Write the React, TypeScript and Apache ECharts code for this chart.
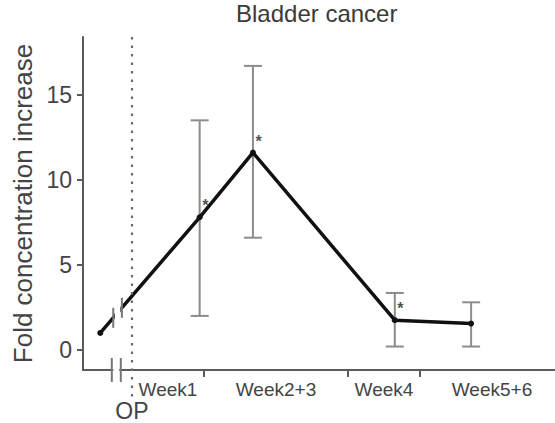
import React, { useEffect, useRef } from 'react';
import * as echarts from 'echarts';

const chartTitle = 'Bladder cancer';
const yAxisName = 'Fold concentration increase';
const opLabel = 'OP';
const weekLabels = ['Week1', 'Week2+3', 'Week4', 'Week5+6'];
const weekLabelPos = [0.5, 2, 3.5, 5];
const weekTickPos = [1, 3, 4];
const yTickValues = [0, 5, 10, 15];

// x position of each measurement, in weeks after the operation (OP = 0)
const pointWeeks = [-0.44, 0.94, 1.68, 3.65, 4.71];
const meanValues = [1.0, 7.8, 11.6, 1.75, 1.55];
const errLow = [null, 2.0, 6.6, 0.2, 0.2];
const errHigh = [null, 13.5, 16.7, 3.35, 2.8];
const significant = [false, true, true, true, false];

const opWeek = 0;
const lineBreakWeeks = [-0.26, -0.14];
const axisBreakWeeks = [-0.28, -0.155];

const X_MIN = -0.68;
const X_MAX = 5.875;
const Y_MIN = -1.18;
const Y_MAX = 18.4;

const FONT = 'Liberation Sans, Arial, Helvetica, sans-serif';
const AXIS_COLOR = '#5a5a5a';
const TEXT_COLOR = '#444';

function lineValueAt(w: number) {
  const w0 = pointWeeks[0], w1 = pointWeeks[1];
  const v0 = meanValues[0], v1 = meanValues[1];
  return v0 + ((w - w0) / (w1 - w0)) * (v1 - v0);
}

export default function App() {
  const ref = useRef<HTMLDivElement>(null);
  useEffect(() => {
    document.body.style.margin = '0';
    if (!ref.current) return;
    const chart = echarts.init(ref.current, null, { renderer: 'svg' });

    const linePoints = pointWeeks.map((w, i) => [w, meanValues[i]]);
    const errData = pointWeeks
      .map((w, i) => (errLow[i] == null ? null : [w, errLow[i], errHigh[i]]))
      .filter((d) => d !== null);
    const starData = pointWeeks
      .map((w, i) => (significant[i] ? [w, meanValues[i]] : null))
      .filter((d) => d !== null);

    const option: any = {
      animation: false,
      backgroundColor: '#fff',
      title: {
        text: chartTitle,
        left: 236,
        top: 1,
        padding: 0,
        textStyle: { fontFamily: FONT, fontSize: 24, fontWeight: 'normal', color: '#3a3a3a' },
      },
      grid: { left: 83, right: 0, top: 37, bottom: 53, containLabel: false },
      xAxis: {
        type: 'value',
        min: X_MIN,
        max: X_MAX,
        splitLine: { show: false },
        axisLine: { show: true, onZero: false, lineStyle: { color: AXIS_COLOR, width: 2 } },
        axisTick: {
          show: true,
          customValues: weekTickPos,
          length: 7,
          lineStyle: { color: AXIS_COLOR, width: 2 },
        },
        axisLabel: {
          show: true,
          customValues: weekLabelPos,
          margin: 10,
          fontFamily: FONT,
          fontSize: 19,
          color: TEXT_COLOR,
          formatter: (v: number) => {
            const idx = weekLabelPos.findIndex((p) => Math.abs(p - v) < 1e-6);
            return idx >= 0 ? weekLabels[idx] : '';
          },
        },
      },
      yAxis: {
        type: 'value',
        min: Y_MIN,
        max: Y_MAX,
        name: yAxisName,
        nameLocation: 'middle',
        nameGap: 41,
        nameTextStyle: { fontFamily: FONT, fontSize: 26, color: TEXT_COLOR },
        splitLine: { show: false },
        axisLine: { show: true, onZero: false, lineStyle: { color: AXIS_COLOR, width: 2 } },
        axisTick: {
          show: true,
          customValues: yTickValues,
          length: 6,
          lineStyle: { color: AXIS_COLOR, width: 2 },
        },
        axisLabel: {
          show: true,
          customValues: yTickValues,
          margin: 11,
          fontFamily: FONT,
          fontSize: 23,
          color: TEXT_COLOR,
        },
      },
      series: [
        {
          type: 'custom',
          name: 'errors',
          z: 1,
          data: errData,
          encode: { x: 0, y: [1, 2] },
          renderItem: (params: any, api: any) => {
            const lo = api.coord([api.value(0), api.value(1)]);
            const hi = api.coord([api.value(0), api.value(2)]);
            const hw = 9;
            const style = { stroke: '#8c8c8c', lineWidth: 2 };
            return {
              type: 'group',
              children: [
                { type: 'line', shape: { x1: lo[0], y1: lo[1], x2: hi[0], y2: hi[1] }, style },
                { type: 'line', shape: { x1: lo[0] - hw, y1: lo[1], x2: lo[0] + hw, y2: lo[1] }, style },
                { type: 'line', shape: { x1: hi[0] - hw, y1: hi[1], x2: hi[0] + hw, y2: hi[1] }, style },
              ],
            };
          },
        },
        {
          type: 'line',
          name: 'mean',
          z: 3,
          data: linePoints,
          symbol: 'circle',
          symbolSize: 6,
          itemStyle: { color: '#111' },
          lineStyle: { color: '#111', width: 3.5 },
        },
        {
          type: 'scatter',
          name: 'stars',
          z: 4,
          data: starData,
          symbolSize: 1,
          itemStyle: { color: 'rgba(0,0,0,0)' },
          label: {
            show: true,
            formatter: '*',
            position: [3, -19],
            fontFamily: FONT,
            fontSize: 16,
            fontWeight: 'bold',
            color: '#222',
          },
        },
        {
          type: 'custom',
          name: 'decor',
          z: 5,
          clip: false,
          data: [[opWeek, 0]],
          renderItem: (params: any, api: any) => {
            const children: any[] = [];
            // dotted OP line
            const top = api.coord([opWeek, Y_MAX]);
            const bottom = api.coord([opWeek, Y_MIN]);
            children.push({
              type: 'line',
              shape: { x1: top[0], y1: top[1], x2: bottom[0], y2: bottom[1] + 30 },
              style: { stroke: '#6a6a6a', lineWidth: 2.2, lineDash: [2.5, 6] },
            });
            children.push({
              type: 'text',
              style: {
                text: opLabel,
                x: bottom[0],
                y: bottom[1] + 41,
                align: 'center',
                verticalAlign: 'middle',
                fontFamily: FONT,
                fontSize: 23,
                fill: TEXT_COLOR,
              },
            });
            // break on the connecting line
            const b1 = api.coord([lineBreakWeeks[0], lineValueAt(lineBreakWeeks[0])]);
            const b2 = api.coord([lineBreakWeeks[1], lineValueAt(lineBreakWeeks[1])]);
            children.push({
              type: 'rect',
              shape: { x: b1[0] + 1.5, y: Math.min(b1[1], b2[1]) - 8, width: b2[0] - b1[0] - 3, height: Math.abs(b1[1] - b2[1]) + 16 },
              style: { fill: '#fff' },
            });
            [b1, b2].forEach((b) => {
              children.push({
                type: 'line',
                shape: { x1: b[0], y1: b[1] - 10, x2: b[0], y2: b[1] + 10 },
                style: { stroke: '#777', lineWidth: 2 },
              });
            });
            // break on the x axis
            const a1 = api.coord([axisBreakWeeks[0], Y_MIN]);
            const a2 = api.coord([axisBreakWeeks[1], Y_MIN]);
            children.push({
              type: 'rect',
              shape: { x: a1[0] + 1.5, y: a1[1] - 3, width: a2[0] - a1[0] - 3, height: 6 },
              style: { fill: '#fff' },
            });
            [a1, a2].forEach((a) => {
              children.push({
                type: 'line',
                shape: { x1: a[0], y1: a[1] - 12, x2: a[0], y2: a[1] + 12 },
                style: { stroke: '#777', lineWidth: 2 },
              });
            });
            return { type: 'group', children };
          },
        },
      ],
    };
    chart.setOption(option);
    return () => chart.dispose();
  }, []);
  return <div ref={ref} style={{ width: 555, height: 423 }} />;
}
